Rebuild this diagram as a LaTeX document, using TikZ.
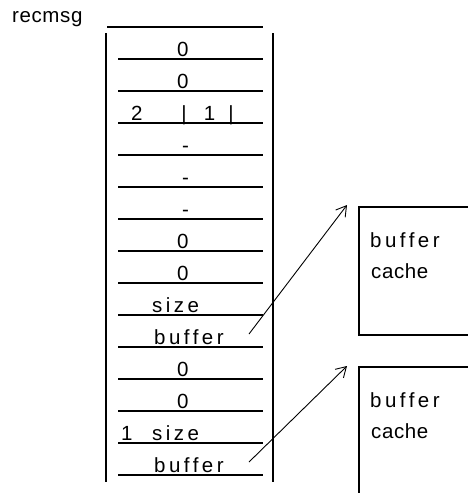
\documentclass[tikz,border=0pt]{standalone}
\usepackage{fontspec}
\setmainfont{Liberation Sans}
\newfontfamily\plainf[LetterSpace=3]{Liberation Sans}
\newfontfamily\spaced[LetterSpace=17]{Liberation Sans}
\usetikzlibrary{arrows.meta}
\begin{document}
\begin{tikzpicture}[x=1pt,y=-1pt,
  txt/.style={anchor=base west,inner sep=0pt,font=\fontsize{20.5}{24}\selectfont\plainf},
  stxt/.style={anchor=base west,inner sep=0pt,font=\fontsize{20.5}{24}\selectfont\spaced},
  rowline/.style={line width=1.2pt},
  bar/.style={line width=2pt},
  cachebox/.style={draw,line width=2pt,rectangle,inner sep=0pt,anchor=north west,minimum width=140pt,minimum height=128pt},
  ptr/.style={line width=0.9pt,-{Straight Barb[length=10pt,width=12pt]}}]
\useasboundingbox (0,0) rectangle (468,493);
\clip (0,0) rectangle (468,493);
% title
\node[txt] (title) at (12,22) {recmsg};
% frame
\coordinate (topL) at (107,27);
\coordinate (topR) at (263,27);
\draw[rowline] (topL) -- (topR);
\coordinate (lbT) at (106,33); \coordinate (lbB) at (106,482);
\coordinate (rbT) at (273,33); \coordinate (rbB) at (273,482);
\draw[bar] (lbT) -- (lbB);
\draw[bar] (rbT) -- (rbB);
\foreach \k in {0,...,13}{
  \coordinate (la\k) at (118,{59+32*\k});
  \coordinate (lb\k) at (263,{59+32*\k});
  \draw[rowline] (la\k) -- (lb\k);
}
% row texts
\node[txt] (r1) at (177,56) {0};
\node[txt] (r2) at (177,88) {0};
\node[txt] (r3a) at (131,120) {2};
\node[txt,anchor=base] (r3b) at (184,120) {|};
\node[txt,anchor=base] (r3c) at (209.5,120) {1};
\node[txt,anchor=base] (r3d) at (231,120) {|};
\node[txt] (r4) at (182,152) {-};
\node[txt] (r5) at (182,184) {-};
\node[txt] (r6) at (182,216) {-};
\node[txt] (r7) at (177,248) {0};
\node[txt] (r8) at (177,280) {0};
\node[stxt] (r9) at (152,312) {size};
\node[stxt] (r10) at (154,344) {buffer};
\node[txt] (r11) at (177,376) {0};
\node[txt] (r12) at (177,408) {0};
\node[txt] (r13a) at (121,440) {1};
\node[stxt] (r13b) at (152,440) {size};
\node[stxt] (r14) at (154,472) {buffer};
% cache boxes
\node[cachebox] (box1) at (358,206) {};
\node[cachebox] (box2) at (358,366) {};
\node[stxt] (b1a) at (370,247) {buffer};
\node[txt] (b1b) at (371,278) {cache};
\node[stxt] (b2a) at (370,407) {buffer};
\node[txt] (b2b) at (371,438) {cache};
% pointers
\coordinate (p1s) at (249,334); \coordinate (p1e) at (347,205);
\coordinate (p2s) at (249,462); \coordinate (p2e) at (347,366);
\draw[ptr] (p1s) -- (p1e);
\draw[ptr] (p2s) -- (p2e);
\end{tikzpicture}
\end{document}
